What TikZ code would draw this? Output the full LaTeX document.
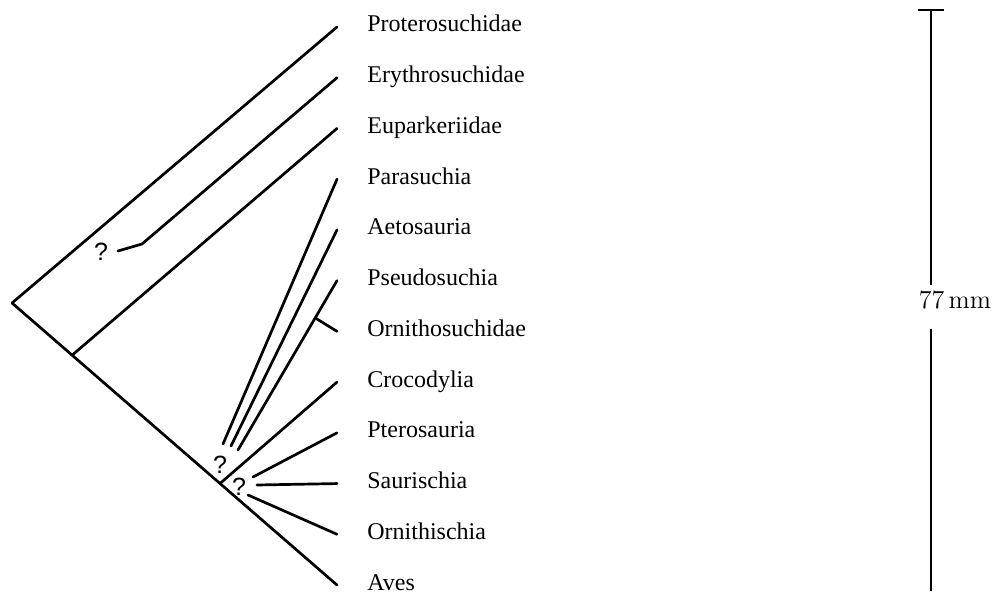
\documentclass[tikz,border=0pt]{standalone}
\usepackage{fontspec}
\newfontfamily\taxfont{Liberation Serif}
\newfontfamily\qfont{Liberation Sans}
\usepackage{tikz}
\usetikzlibrary{calc}

\begin{document}
\begin{tikzpicture}[x=0.5pt,y=-0.5pt,
  branch/.style={line width=1.35pt,line cap=round},
  taxon/.style={anchor=west,inner sep=0pt,text height=8pt,text depth=0pt,font=\taxfont\fontsize{12}{14}\selectfont},
  qmark/.style={inner sep=0pt,font=\qfont\fontsize{12.5}{14}\selectfont},
  scalebar/.style={line width=0.9pt}]
\useasboundingbox (0,0) rectangle (996,593);
% taxa top to bottom, tips just left of the names
\foreach \nm/\txt [count=\i from 0] in {prot/Proterosuchidae, eryt/Erythrosuchidae, eupa/Euparkeriidae,
    para/Parasuchia, aeto/Aetosauria, pseu/Pseudosuchia, orni/Ornithosuchidae, croc/Crocodylia,
    pter/Pterosauria, saur/Saurischia, omth/Ornithischia, aves/Aves}{
  \node[taxon] (\nm) at (367,{24+50.73*\i}) {\txt};
  \coordinate (\nm-t) at (337,{27+50.73*\i});
}
\coordinate (root) at (12,303);
\coordinate (euj) at ($(root)!0.185!(aves-t)$);
\coordinate (croj) at ($(root)!0.64!(aves-t)$);
\coordinate (eryt-s) at (118,251);
\coordinate (eryt-k) at (142,244);
\coordinate (para-s) at (223,444);
\coordinate (aeto-s) at (231,446);
\coordinate (pseu-s) at (238,450);
\coordinate (orni-s) at ($(pseu-s)!0.78!(pseu-t)$);
\coordinate (pter-s) at (253,477);
\coordinate (saur-s) at (257,485);
\coordinate (omth-s) at (248,495);
% branches
\foreach \a/\b in {root/prot-t, root/aves-t, euj/eupa-t, croj/croc-t, para-s/para-t, aeto-s/aeto-t,
    pseu-s/pseu-t, orni-s/orni-t, pter-s/pter-t, saur-s/saur-t, omth-s/omth-t}
  \draw[branch] (\a) -- (\b);
\draw[branch] (eryt-s) -- (eryt-k) -- (eryt-t);
% uncertain attachments
\node[qmark] (q1) at (101,252) {?};
\node[qmark] (q2) at (220,465) {?};
\node[qmark] (q3) at (239,487) {?};
% scale bar
\coordinate (bar-top) at (931,10);
\coordinate (bar-bot) at (931,591);
\node[inner sep=0pt,font=\fontsize{13}{15}\selectfont] (mm) at (955,300) {77\,mm};
\draw[scalebar] (bar-top) -- ([yshift=3pt]bar-top |- mm.north);
\draw[scalebar] ([yshift=-10pt]bar-bot |- mm.south) -- (bar-bot);
\draw[scalebar] ([xshift=-6.5pt]bar-top) -- ([xshift=6.5pt]bar-top);
\end{tikzpicture}
\end{document}
